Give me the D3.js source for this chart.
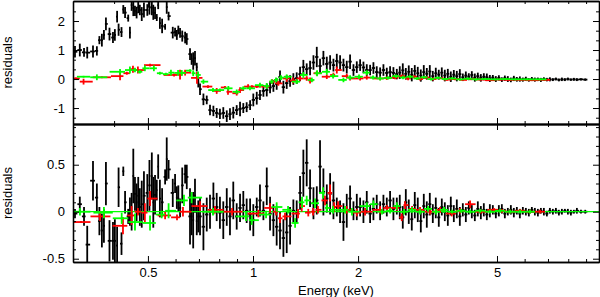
<!DOCTYPE html>
<html>
<head>
<meta charset="utf-8">
<script src="https://cdn.jsdelivr.net/npm/d3@7"></script>
<style>
  body { margin: 0; background: #fff; }
  svg { display: block; }
  text { font-family: "Liberation Sans", Arial, sans-serif; fill: #000; }
</style>
</head>
<body>
<div id="canvas"></div>
<script>
// energy bins (keV) of the black spectrum, same bins in both panels
const blackE = [
  0.309,0.319,0.328,0.335,0.348,0.357,0.363,0.369,0.374,0.379,
  0.388,0.397,0.402,0.408,0.412,0.420,0.425,0.430,0.439,0.444,
  0.449,0.454,0.459,0.464,0.469,0.474,0.480,0.487,0.498,0.505,
  0.513,0.518,0.524,0.530,0.535,0.541,0.549,0.560,0.566,0.573,
  0.589,0.598,0.605,0.611,0.618,0.627,0.639,0.646,0.660,0.667,
  0.674,0.682,0.690,0.697,
  0.705,0.721,0.737,0.753,0.770,0.787,0.804,0.822,0.841,0.859,
  0.878,0.898,0.918,0.938,0.959,0.981,1.002,1.025,1.047,1.071,
  1.095,1.119,1.144,1.169,1.195,1.222,1.249,1.277,1.305,1.334,
  1.364,1.394,1.425,1.457,1.490,1.523,1.556,1.591,1.627,1.663,
  1.700,1.738,1.776,1.816,1.856,1.897,1.940,1.983,2.027,2.072,
  2.118,2.165,2.213,2.262,2.313,2.364,2.417,2.470,2.525,2.582,
  2.633,2.686,2.740,2.794,2.850,2.907,2.965,3.025,3.085,3.147,
  3.210,3.274,3.339,3.406,3.474,3.544,3.615,3.687,3.761,3.836,
  3.913,3.991,4.071,4.152,4.235,4.320,4.406,4.495,4.584,4.676,
  4.770,4.865,4.962,5.062,5.163,5.266,5.371,5.479,5.588,5.700,
  5.814,5.930,6.049,6.170,6.293,6.419,6.548,6.679,6.812,6.948,
  7.087,7.229,7.374,7.521,7.672,7.825,7.982,8.141,8.304,8.470,
  8.70,8.95
];
// upper panel residuals
const blackTop = [
  0.94,1.0,0.92,0.91,0.95,0.97,1.34,1.34,1.52,1.9,
  1.55,1.43,1.52,2.15,1.7,1.62,2.4,2.29,2.1,1.6,
  2.55,2.45,2.35,2.29,2.47,2.38,2.24,2.38,2.38,2.48,
  2.45,2.3,2.28,2.12,2.55,1.93,1.83,1.8,2.48,2.17,
  1.6,1.62,1.52,1.69,1.59,1.48,1.43,1.38,0.86,0.69,
  0.62,0.72,0.41,-0.12,
  -0.35,-0.7,-0.72,-1.07,-1.1,-1.17,-1.2,-1.17,-1.28,-1.21,
  -1.16,-1.07,-1.03,-1.0,-0.97,-0.9,-0.72,-0.66,-0.55,-0.41,
  -0.38,-0.29,-0.24,-0.17,0.07,-0.28,-0.14,-0.07,0.0,0.03,
  0.17,0.41,0.34,0.38,0.57,0.76,0.45,0.72,0.52,0.57,
  0.48,0.62,0.57,0.48,0.41,0.6,0.31,0.41,0.48,0.4,
  0.31,0.31,0.38,0.24,0.22,0.31,0.21,0.24,0.21,0.17,
  0.22,0.3,0.18,0.25,0.15,0.28,0.2,0.12,0.24,0.18,
  0.26,0.1,0.2,0.15,0.22,0.12,0.18,0.08,0.15,0.1,
  0.17,0.06,0.12,0.08,0.14,0.05,0.1,0.04,0.08,0.06,
  0.02,0.05,0.0,0.04,-0.02,0.03,0.0,-0.03,0.02,-0.01,
  0.0,-0.02,0.01,-0.03,0.0,-0.02,-0.01,-0.03,0.0,-0.02,
  -0.01,-0.02,0.0,-0.03,-0.01,-0.02,0.0,-0.02,-0.01,-0.02,
  -0.01,-0.02
];
const blackTopErr = [
  0.2,0.22,0.15,0.2,0.21,0.16,0.14,0.22,0.17,0.22,
  0.22,0.19,0.2,0.2,0.21,0.17,0.15,0.19,0.12,0.2,
  0.2,0.28,0.18,0.2,0.2,0.18,0.24,0.26,0.2,0.26,
  0.25,0.26,0.21,0.12,0.14,0.2,0.25,0.1,0.23,0.15,
  0.2,0.15,0.17,0.15,0.17,0.19,0.2,0.2,0.2,0.2,
  0.3,0.25,0.15,0.17,
  0.2,0.2,0.15,0.18,0.18,0.17,0.18,0.2,0.2,0.2,
  0.2,0.17,0.25,0.17,0.17,0.17,0.22,0.22,0.17,0.2,
  0.22,0.2,0.2,0.2,0.22,0.22,0.2,0.2,0.2,0.2,
  0.25,0.25,0.2,0.25,0.25,0.35,0.25,0.25,0.25,0.25,
  0.22,0.25,0.25,0.22,0.22,0.25,0.2,0.2,0.2,0.2,
  0.2,0.18,0.2,0.2,0.18,0.2,0.18,0.2,0.2,0.18,
  0.22,0.24,0.2,0.22,0.23,0.2,0.22,0.21,0.24,0.2,
  0.22,0.18,0.19,0.17,0.18,0.2,0.17,0.18,0.16,0.18,
  0.17,0.13,0.14,0.12,0.13,0.14,0.12,0.13,0.12,0.13,
  0.12,0.09,0.1,0.09,0.08,0.09,0.1,0.08,0.09,0.08,
  0.09,0.07,0.07,0.06,0.07,0.07,0.06,0.07,0.06,0.06,
  0.07,0.05,0.05,0.05,0.06,0.05,0.05,0.04,0.05,0.05,
  0.04,0.04
];
// lower panel residuals
const blackBot = [
  -0.02,0.08,-0.05,-0.35,0.33,0.15,-0.1,-0.2,-0.15,0.3,
  -0.31,-0.31,-0.31,-0.36,0.26,-0.34,0.43,0.1,-0.05,0.0,
  0.0,0.38,0.19,0.1,0.17,0.05,0.08,0.17,0.2,0.28,
  0.38,0.1,0.18,0.23,0.48,0.14,0.1,0.37,0.56,0.45,
  0.2,0.3,0.15,0.14,0.04,0.28,0.4,0.37,-0.05,-0.05,
  -0.09,0.17,-0.1,-0.05,
  -0.05,-0.16,-0.03,0.0,0.14,0.05,-0.01,-0.09,0.05,-0.05,
  0.12,-0.05,0.04,0.07,0.01,-0.03,-0.09,0.05,0.12,0.01,
  0.27,-0.02,-0.09,-0.16,-0.2,-0.28,-0.22,-0.15,0.01,0.0,
  0.2,0.41,0.52,0.25,0.09,0.12,0.48,0.21,0.14,0.19,
  0.12,0.05,0.0,-0.11,0.01,0.14,0.01,0.05,0.05,0.0,
  0.1,-0.02,0.03,0.08,0.01,0.08,0.05,0.12,0.03,0.06,
  0.05,-0.06,0.1,0.0,-0.08,0.07,0.02,-0.1,0.06,-0.03,
  0.08,-0.02,0.04,-0.06,0.05,0.0,-0.04,0.06,-0.02,0.03,
  -0.05,0.02,-0.03,0.04,0.0,-0.04,0.03,-0.01,0.02,-0.03,
  0.01,0.02,-0.02,0.01,0.03,-0.02,0.0,0.02,-0.01,0.01,
  -0.02,0.01,0.0,-0.01,0.02,0.0,-0.01,0.01,0.0,-0.02,
  0.01,0.0,0.01,-0.01,0.0,0.01,0.0,-0.01,0.0,0.01,
  0.0,0.0
];
const blackBotErr = [
  0.05,0.08,0.1,0.2,0.21,0.15,0.15,0.18,0.18,0.23,
  0.22,0.2,0.23,0.2,0.21,0.12,0.05,0.12,0.08,0.15,
  0.2,0.29,0.18,0.2,0.2,0.2,0.25,0.26,0.2,0.27,
  0.25,0.27,0.21,0.11,0.13,0.2,0.15,0.08,0.23,0.1,
  0.15,0.1,0.12,0.14,0.1,0.19,0.1,0.13,0.3,0.2,
  0.3,0.18,0.15,0.17,
  0.2,0.25,0.18,0.18,0.17,0.15,0.17,0.2,0.2,0.2,
  0.2,0.14,0.15,0.15,0.13,0.17,0.17,0.1,0.17,0.1,
  0.2,0.18,0.17,0.2,0.2,0.2,0.22,0.2,0.12,0.12,
  0.18,0.25,0.25,0.2,0.17,0.15,0.28,0.25,0.15,0.22,
  0.2,0.1,0.12,0.2,0.18,0.14,0.1,0.14,0.1,0.12,
  0.12,0.1,0.12,0.1,0.1,0.1,0.1,0.1,0.12,0.09,
  0.13,0.12,0.14,0.13,0.12,0.14,0.13,0.12,0.13,0.14,
  0.12,0.1,0.11,0.1,0.09,0.1,0.11,0.1,0.09,0.1,
  0.1,0.07,0.08,0.07,0.07,0.06,0.08,0.07,0.07,0.06,
  0.07,0.05,0.05,0.06,0.05,0.05,0.04,0.05,0.05,0.04,
  0.05,0.04,0.04,0.04,0.03,0.04,0.04,0.03,0.04,0.03,
  0.03,0.03,0.03,0.03,0.03,0.02,0.03,0.03,0.02,0.03,
  0.02,0.02
];

// red spectrum
const redTopE = [
  0.311,0.327,0.369,0.416,0.435,0.453,0.468,0.507,0.594,0.618,
  0.639,0.691,0.743,0.787,0.831,0.848,0.898,0.918,0.968,0.993,
  1.025,1.095,1.134,1.182,1.249,1.302,1.364,1.425,1.457,1.523,
  1.627,1.700,1.738,1.856,1.897,2.027,2.118,2.313,2.417,2.551,
  2.673,2.781,2.893,3.010,3.131,3.280,3.434,3.596,3.792,3.998,
  4.214,4.472,4.776,5.102,5.450,5.823,6.302,6.822
];
const redTop = [
  0.02,-0.09,0.06,0.1,0.2,0.34,0.31,0.48,0.14,0.15,
  0.22,0.04,-0.26,-0.41,-0.29,-0.44,-0.49,-0.38,-0.26,-0.26,
  -0.26,-0.26,-0.09,-0.15,0.02,-0.05,0.02,0.02,-0.05,0.2,
  0.08,0.14,0.31,0.1,0.02,0.02,0.05,0.02,0.03,0.05,
  0.1,0.02,0.08,0.0,0.05,0.0,0.03,-0.02,0.0,-0.03,
  0.0,-0.02,-0.04,-0.02,-0.03,-0.03,-0.04,-0.03
];
const redTopErr = [
  0.03,0.1,0.03,0.14,0.05,0.12,0.12,0.05,0.05,0.17,
  0.1,0.2,0.05,0.1,0.05,0.1,0.08,0.1,0.08,0.05,
  0.05,0.05,0.08,0.08,0.12,0.1,0.08,0.08,0.1,0.08,
  0.08,0.08,0.12,0.08,0.07,0.07,0.07,0.06,0.06,0.06,
  0.06,0.06,0.05,0.05,0.05,0.05,0.04,0.04,0.04,0.04,
  0.04,0.03,0.03,0.03,0.03,0.03,0.03,0.03
];
const redBotE = [
  0.3215,0.3644,0.4241,0.449,0.468,0.490,0.507,0.560,0.6057,0.630,
  0.705,0.778,0.871,1.036,1.119,1.164,1.195,1.235,1.346,1.379,
  1.440,1.486,1.535,1.608,1.663,1.707,1.752,1.856,1.983,2.094,
  2.313,2.417,2.582,2.668,2.726,2.855,3.010,3.215,3.434,3.709,
  3.919,4.187,4.501,4.902,5.170,5.450,5.823,6.219,6.641
];
const redBot = [
  -0.11,-0.05,-0.15,-0.04,0.0,-0.01,0.14,-0.04,-0.06,0.0,
  0.06,0.02,0.0,-0.02,0.04,0.0,-0.07,-0.05,-0.02,0.06,
  -0.01,0.0,0.02,0.12,0.2,0.05,0.06,0.02,-0.01,0.0,
  0.02,0.04,0.04,-0.06,0.07,0.03,0.02,0.0,0.02,-0.02,
  0.01,0.08,0.0,0.02,0.01,0.0,0.01,0.0,0.0
];
const redBotErr = [
  0.01,0.05,0.09,0.1,0.04,0.1,0.08,0.04,0.03,0.05,
  0.05,0.04,0.04,0.04,0.05,0.04,0.05,0.04,0.05,0.06,
  0.04,0.04,0.04,0.05,0.09,0.05,0.05,0.04,0.04,0.04,
  0.04,0.03,0.03,0.04,0.04,0.03,0.03,0.03,0.03,0.03,
  0.03,0.04,0.02,0.02,0.02,0.02,0.02,0.02,0.02
];

// green spectrum
const greenTopE = [
  0.327,0.357,0.416,0.444,0.459,0.474,0.490,0.520,0.541,0.563,
  0.582,0.610,0.625,0.660,0.674,0.696,0.721,0.768,0.804,0.850,
  0.898,0.938,0.980,1.047,1.095,1.131,1.164,1.203,1.249,1.334,
  1.394,1.474,1.526,1.627,1.696,1.816,1.897,2.012,2.118,2.207,
  2.313,2.437,2.569,2.690,2.818,2.951,3.090,3.236,3.389,3.549,
  3.717,3.919,4.130,4.355,4.620,4.935,5.274,5.633,6.097,6.641
];
const greenTop = [
  0.08,0.06,0.25,0.31,0.31,0.25,0.37,0.37,0.2,0.17,
  0.22,0.21,0.21,0.29,0.2,0.14,-0.09,-0.38,-0.38,-0.32,
  -0.44,-0.32,-0.32,-0.21,-0.24,-0.09,-0.03,0.05,0.08,-0.09,
  0.14,-0.03,0.2,0.25,0.1,-0.03,0.05,0.08,0.22,0.05,
  0.02,0.04,0.1,0.05,0.08,0.02,0.06,0.0,0.04,0.0,
  0.02,-0.01,0.01,-0.01,0.0,-0.01,0.0,-0.01,-0.01,-0.01
];
const greenTopErr = [
  0.03,0.1,0.1,0.12,0.08,0.06,0.1,0.1,0.05,0.05,
  0.1,0.1,0.1,0.05,0.1,0.12,0.08,0.07,0.05,0.08,
  0.08,0.07,0.07,0.08,0.1,0.08,0.08,0.08,0.08,0.08,
  0.1,0.08,0.1,0.1,0.08,0.08,0.08,0.08,0.08,0.07,
  0.07,0.06,0.06,0.06,0.06,0.05,0.05,0.05,0.05,0.04,
  0.04,0.04,0.04,0.04,0.03,0.03,0.03,0.03,0.03,0.03
];
const greenBotE = [
  0.3193,0.374,0.4205,0.459,0.507,0.5475,0.573,0.6342,0.667,0.768,
  0.955,0.991,1.090,1.169,1.260,1.320,1.382,1.425,1.505,1.587,
  1.627,1.696,1.835,1.921,2.118,2.213,2.342,2.470,2.582,2.708,
  2.855,3.010,3.172,3.344,3.526,3.717,3.945,4.187,4.472,4.776,
  5.102,5.450,5.823,6.219
];
const greenBot = [
  0.0,-0.01,-0.07,-0.11,-0.12,-0.03,0.01,0.12,0.15,0.0,
  -0.05,-0.09,-0.03,0.05,0.02,-0.12,0.1,0.12,0.09,0.2,
  0.04,0.02,0.02,0.0,0.06,0.08,0.0,0.01,0.06,0.0,
  0.02,0.0,0.03,0.0,0.02,0.0,0.01,0.0,0.01,0.0,
  0.01,0.0,0.0,0.0
];
const greenBotErr = [
  0.04,0.06,0.06,0.09,0.08,0.04,0.08,0.06,0.06,0.04,
  0.05,0.05,0.04,0.05,0.04,0.05,0.06,0.05,0.05,0.06,
  0.04,0.04,0.04,0.04,0.04,0.04,0.03,0.03,0.04,0.03,
  0.03,0.03,0.03,0.03,0.03,0.02,0.02,0.02,0.02,0.02,
  0.02,0.02,0.02,0.02
];

// axis ticks
const xMajor = [0.5, 1, 2, 5];
const xMinor = [0.4, 0.6, 0.7, 0.8, 0.9, 6, 7, 8, 9];
const topMajor = [-1, 0, 1, 2];
const topMinor = [-4/3, -2/3, -1/3, 1/3, 2/3, 4/3, 5/3, 7/3];
const botMajor = [-0.5, 0, 0.5];
const botMinor = [-0.4, -0.3, -0.2, -0.1, 0.1, 0.2, 0.3, 0.4, 0.6, 0.7, 0.8, 0.9];

const width = 600, height = 297;
const left = 73, right = 599;

const svg = d3.select("#canvas").append("svg")
  .attr("width", width).attr("height", height);
svg.append("rect").attr("width", width).attr("height", height).attr("fill", "#fff");

const x = d3.scaleLog().domain([0.305, 9.80]).range([left, right]);

const panels = [
  { top: 1, bottom: 124, dom: [-1.55, 2.69], major: topMajor, minor: topMinor,
    series: [[blackE, blackTop, blackTopErr, "#000", 1.8],
             [redTopE, redTop, redTopErr, "#ff0000", 1.8],
             [greenTopE, greenTop, greenTopErr, "#00ff00", 1.8]] },
  { top: 124, bottom: 262, dom: [-0.535, 0.933], major: botMajor, minor: botMinor, zero: true,
    series: [[blackE, blackBot, blackBotErr, "#000", 1.8],
             [redBotE, redBot, redBotErr, "#ff0000", 1.8],
             [greenBotE, greenBot, greenBotErr, "#00ff00", 1.8]] }
];

// bin extents: half way to the neighbours in log space, capped
function bins(es) {
  return es.map((e, i) => {
    const l = Math.log10(e);
    const dl = i > 0 ? (l - Math.log10(es[i - 1])) / 2 : null;
    const dr = i < es.length - 1 ? (Math.log10(es[i + 1]) - l) / 2 : null;
    const a = Math.min(dl ?? dr, 0.03), b = Math.min(dr ?? dl, 0.03);
    return [Math.pow(10, l - a), Math.pow(10, l + b)];
  });
}

panels.forEach((p, pi) => {
  const y = d3.scaleLinear().domain(p.dom).range([p.bottom, p.top]);
  const clipId = "clip" + pi;
  svg.append("clipPath").attr("id", clipId).append("rect")
    .attr("x", left).attr("y", p.top).attr("width", right - left).attr("height", p.bottom - p.top);
  const g = svg.append("g").attr("clip-path", `url(#${clipId})`);

  p.series.forEach(([es, vs, errs, color, sw], si) => {
    if (p.zero && si === 1) {
      g.append("line").attr("x1", left).attr("x2", right)
        .attr("y1", y(0)).attr("y2", y(0))
        .attr("stroke", "#00ff00").attr("stroke-width", 1.2);
    }
    const b = bins(es);
    const pts = es.map((e, i) => ({ e, v: vs[i], err: errs[i], lo: b[i][0], hi: b[i][1] }));
    const s = g.append("g").attr("stroke", color).attr("stroke-width", sw);
    s.selectAll("line.h").data(pts).enter().append("line").attr("class", "h")
      .attr("x1", d => x(d.lo)).attr("x2", d => x(d.hi))
      .attr("y1", d => y(d.v)).attr("y2", d => y(d.v));
    s.selectAll("line.v").data(pts).enter().append("line").attr("class", "v")
      .attr("x1", d => x(d.e)).attr("x2", d => x(d.e))
      .attr("y1", d => y(d.v - d.err)).attr("y2", d => y(d.v + d.err));
  });

  // frame with inward ticks on all four sides
  const ax = svg.append("g").attr("class", "axes");
  ax.append("g").attr("transform", `translate(0,${p.bottom})`)
    .call(d3.axisBottom(x).tickValues(xMajor).tickSize(-6).tickSizeOuter(0).tickPadding(6)
      .tickFormat(pi === 1 ? d3.format("") : ""));
  ax.append("g").attr("transform", `translate(0,${p.bottom})`)
    .call(d3.axisBottom(x).tickValues(xMinor).tickSize(-3).tickSizeOuter(0).tickFormat(""));
  ax.append("g").attr("transform", `translate(0,${p.top})`)
    .call(d3.axisTop(x).tickValues(xMajor).tickSize(-6).tickSizeOuter(0).tickFormat(""));
  ax.append("g").attr("transform", `translate(0,${p.top})`)
    .call(d3.axisTop(x).tickValues(xMinor).tickSize(-3).tickSizeOuter(0).tickFormat(""));
  ax.append("g").attr("transform", `translate(${left},0)`)
    .call(d3.axisLeft(y).tickValues(p.major).tickSize(-6).tickSizeOuter(0).tickPadding(8)
      .tickFormat(d => String(d)));
  ax.append("g").attr("transform", `translate(${left},0)`)
    .call(d3.axisLeft(y).tickValues(p.minor).tickSize(-3).tickSizeOuter(0).tickFormat(""));
  ax.append("g").attr("transform", `translate(${right},0)`)
    .call(d3.axisRight(y).tickValues(p.major).tickSize(-6).tickSizeOuter(0).tickFormat(""));
  ax.append("g").attr("transform", `translate(${right},0)`)
    .call(d3.axisRight(y).tickValues(p.minor).tickSize(-3).tickSizeOuter(0).tickFormat(""));

  svg.append("text")
    .attr("transform", `translate(12,${(p.top + p.bottom) / 2}) rotate(-90)`)
    .attr("text-anchor", "middle").style("font-size", "13px")
    .text("residuals");
});

svg.selectAll(".axes path.domain").attr("stroke", "#000").attr("stroke-width", 1.3);
svg.selectAll(".axes line").attr("stroke", "#000").attr("stroke-width", 1);
svg.selectAll(".axes text").style("font-size", "13px")
  .style("font-family", '"Liberation Sans", Arial, sans-serif').attr("fill", "#000");

svg.append("text").attr("x", 336).attr("y", 295)
  .attr("text-anchor", "middle").style("font-size", "13px")
  .text("Energy (keV)");
</script>
</body>
</html>
